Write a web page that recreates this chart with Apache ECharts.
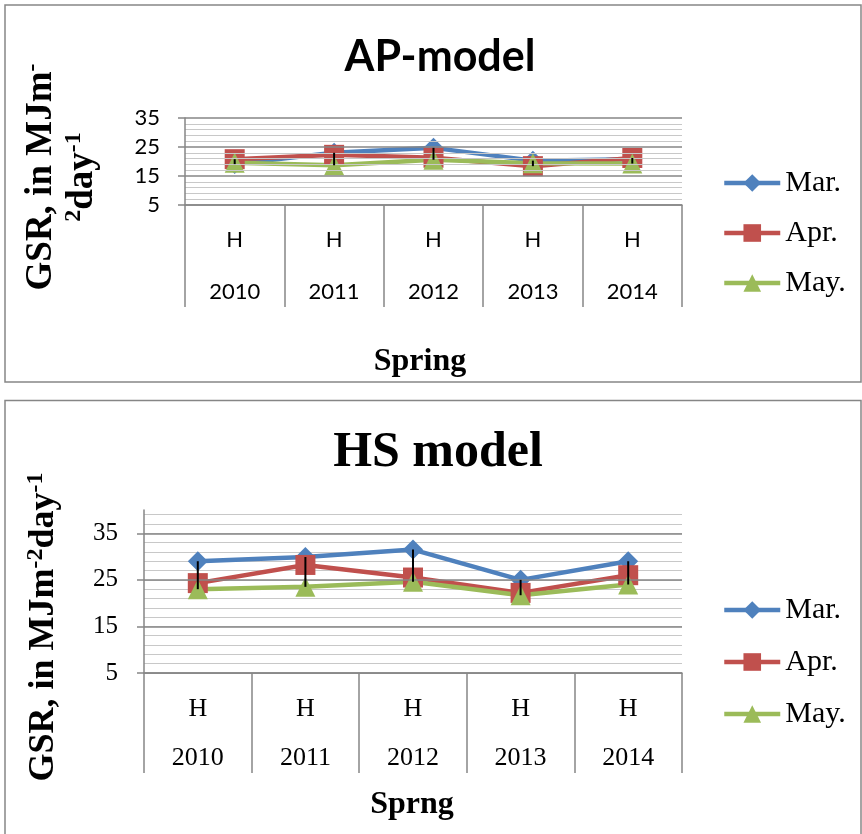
<!DOCTYPE html>
<html>
<head>
<meta charset="utf-8">
<script src="https://cdn.jsdelivr.net/npm/echarts@6/dist/echarts.min.js"></script>
<style>
body { margin: 0; background: #fff; }
#main { width: 862px; height: 834px; }
</style>
</head>
<body>
<div id="main"></div>
<script>
// 数据
var years = ['2010', '2011', '2012', '2013', '2014'];
var subLabel = 'H';
var seriesNames = ['Mar.', 'Apr.', 'May.'];
var colors = ['#4F81BD', '#C0504D', '#9BBB59'];
var symbols = ['diamond', 'rect', 'triangle'];

// AP-model
var apMar = [19.1, 23.0, 24.7, 20.3, 20.8];
var apApr = [20.8, 22.3, 21.3, 18.4, 21.2];
var apMay = [19.6, 18.7, 20.6, 19.4, 19.3];
var apAxis = [5, 35, 10];

// HS model
var hsMar = [29.0, 29.9, 31.5, 25.0, 29.0];
var hsApr = [24.3, 28.2, 25.5, 22.2, 26.0];
var hsMay = [23.0, 23.5, 24.6, 21.7, 24.0];
var hsAxis = [5, 40, 10];

var myChart = echarts.init(document.getElementById('main'));

var grey = '#868686';
var lightGrey = '#c8c8c8';
var serif = 'Liberation Serif';
var sans = 'Lato';

// 高低线
var getHighLow = function (a, b, c) {
	var data = [];
	for (var i = 0; i < a.length; i++) {
		data.push([i, Math.min(a[i], b[i], c[i]), Math.max(a[i], b[i], c[i])]);
	}
	return data;
};

var renderHighLow = function (params, api) {
	var p1 = api.coord([api.value(0), api.value(1)]);
	var p2 = api.coord([api.value(0), api.value(2)]);
	return {
		type: 'line',
		shape: { x1: p1[0], y1: p1[1], x2: p2[0], y2: p2[1] },
		style: { stroke: '#000', lineWidth: 2 }
	};
};

var makeLines = function (list, axisIdx, width, size) {
	var out = [];
	for (var i = 0; i < list.length; i++) {
		out.push({
			name: seriesNames[i],
			type: 'line',
			xAxisIndex: axisIdx,
			yAxisIndex: axisIdx,
			data: list[i],
			symbol: symbols[i],
			symbolSize: size,
			lineStyle: { color: colors[i], width: width },
			itemStyle: { color: colors[i], borderWidth: 0 },
			z: 2
		});
	}
	return out;
};

var catAxis = function (gridIdx, family, size, lh, margin, tickLen) {
	return {
		type: 'category',
		gridIndex: gridIdx,
		data: years,
		z: 3,
		axisLine: { show: true, lineStyle: { color: grey, width: 1.5 } },
		axisTick: { show: true, length: tickLen, interval: 0, lineStyle: { color: grey, width: 1.5 } },
		axisLabel: {
			interval: 0,
			margin: margin,
			formatter: function (v) {
				return '{h|' + subLabel + '}\n{y|' + v + '}';
			},
			rich: {
				h: { fontFamily: family, fontSize: size, lineHeight: lh, color: '#000' },
				y: { fontFamily: family, fontSize: size, lineHeight: lh, color: '#000' }
			}
		},
		splitLine: { show: false }
	};
};

var lines = makeLines([apMar, apApr, apMay], 0, 4.5, 20)
	.concat(makeLines([hsMar, hsApr, hsMay], 1, 4.5, 20));

lines.push({
	type: 'custom',
	xAxisIndex: 0,
	yAxisIndex: 0,
	renderItem: renderHighLow,
	data: getHighLow(apMar, apApr, apMay),
	z: 5
});
lines.push({
	type: 'custom',
	xAxisIndex: 1,
	yAxisIndex: 1,
	renderItem: renderHighLow,
	data: getHighLow(hsMar, hsApr, hsMay),
	z: 5
});

var legendBase = function (top, gap) {
	return {
		data: seriesNames,
		orient: 'vertical',
		left: 722,
		top: top,
		padding: 0,
		itemWidth: 56,
		itemHeight: 22,
		itemGap: gap,
		lineStyle: { width: 4.5 },
		itemStyle: { borderWidth: 0 },
		textStyle: { fontFamily: serif, fontSize: 30, color: '#000' }
	};
};

var option = {
	animation: false,
	backgroundColor: '#fff',
	grid: [
		{ left: 185, top: 118, width: 497, height: 87 },
		{ left: 144, top: 510, width: 538, height: 163 }
	],
	xAxis: [
		catAxis(0, sans, 22, 52, 9, 102),
		catAxis(1, serif, 26, 49, 12, 100)
	],
	yAxis: [{
		type: 'value',
		gridIndex: 0,
		min: apAxis[0],
		max: apAxis[1],
		interval: apAxis[2],
		z: 3,
		axisLine: { show: true, lineStyle: { color: grey, width: 1.5 } },
		axisTick: { show: true, length: 7, lineStyle: { color: grey, width: 1.5 } },
		axisLabel: { margin: 25, fontFamily: sans, fontSize: 22, color: '#000' },
		splitLine: { show: true, lineStyle: { color: grey, width: 1.5 } },
		minorTick: { show: false, splitNumber: 5 },
		minorSplitLine: { show: true, lineStyle: { color: lightGrey, width: 1.2 } }
	}, {
		type: 'value',
		gridIndex: 1,
		min: hsAxis[0],
		max: hsAxis[1],
		interval: hsAxis[2],
		z: 3,
		axisLine: { show: true, lineStyle: { color: grey, width: 1.5 } },
		axisTick: { show: true, length: 7, lineStyle: { color: grey, width: 1.5 } },
		axisLabel: { margin: 26, fontFamily: serif, fontSize: 25, color: '#000', showMaxLabel: false },
		splitLine: { show: true, showMaxLine: false, lineStyle: { color: grey, width: 1.5 } }
	}, {
		// 次网格线
		type: 'value',
		gridIndex: 1,
		min: hsAxis[0],
		max: hsAxis[1],
		interval: 2,
		z: 1,
		axisLine: { show: false },
		axisTick: { show: false },
		axisLabel: { show: false },
		splitLine: { show: true, showMaxLine: false, lineStyle: { color: lightGrey, width: 1.2 } }
	}],
	legend: [legendBase(168, 20), legendBase(595, 22)],
	graphic: [{
		type: 'rect',
		silent: true,
		z: -10,
		shape: { x: 5, y: 5, width: 856, height: 377 },
		style: { fill: 'none', stroke: grey, lineWidth: 1.5 }
	}, {
		type: 'rect',
		silent: true,
		z: -10,
		shape: { x: 5, y: 400.5, width: 856, height: 450 },
		style: { fill: 'none', stroke: grey, lineWidth: 1.5 }
	}, {
		type: 'text',
		x: 440,
		y: 57,
		style: { text: 'AP-model', fontFamily: sans, fontWeight: 'bold', fontSize: 43, fill: '#000', align: 'center', verticalAlign: 'middle' }
	}, {
		type: 'text',
		x: 438,
		y: 453,
		style: { text: 'HS model', fontFamily: serif, fontWeight: 'bold', fontSize: 50, fill: '#000', align: 'center', verticalAlign: 'middle' }
	}, {
		type: 'text',
		x: 420,
		y: 362,
		style: { text: 'Spring', fontFamily: serif, fontWeight: 'bold', fontSize: 32, fill: '#000', align: 'center', verticalAlign: 'middle' }
	}, {
		type: 'text',
		x: 412,
		y: 805,
		style: { text: 'Sprng', fontFamily: serif, fontWeight: 'bold', fontSize: 32, fill: '#000', align: 'center', verticalAlign: 'middle' }
	}, {
		// 纵轴标题
		type: 'text',
		x: 62,
		y: 177,
		rotation: Math.PI / 2,
		style: {
			text: '{b|GSR, in MJm}{s|-}\n{s|2}{b|day}{s|-1}',
			align: 'center',
			verticalAlign: 'middle',
			rich: {
				b: { fontFamily: serif, fontWeight: 'bold', fontSize: 37, lineHeight: 41, fill: '#000' },
				s: { fontFamily: serif, fontWeight: 'bold', fontSize: 24, lineHeight: 18, verticalAlign: 'top', fill: '#000' }
			}
		}
	}, {
		type: 'text',
		x: 44,
		y: 627,
		rotation: Math.PI / 2,
		style: {
			text: '{b|GSR, in MJm}{s|-2}{b|day}{s|-1}',
			align: 'center',
			verticalAlign: 'middle',
			rich: {
				b: { fontFamily: serif, fontWeight: 'bold', fontSize: 36, lineHeight: 40, fill: '#000' },
				s: { fontFamily: serif, fontWeight: 'bold', fontSize: 24, lineHeight: 18, verticalAlign: 'top', fill: '#000' }
			}
		}
	}],
	series: lines
};

myChart.setOption(option);
</script>
</body>
</html>
